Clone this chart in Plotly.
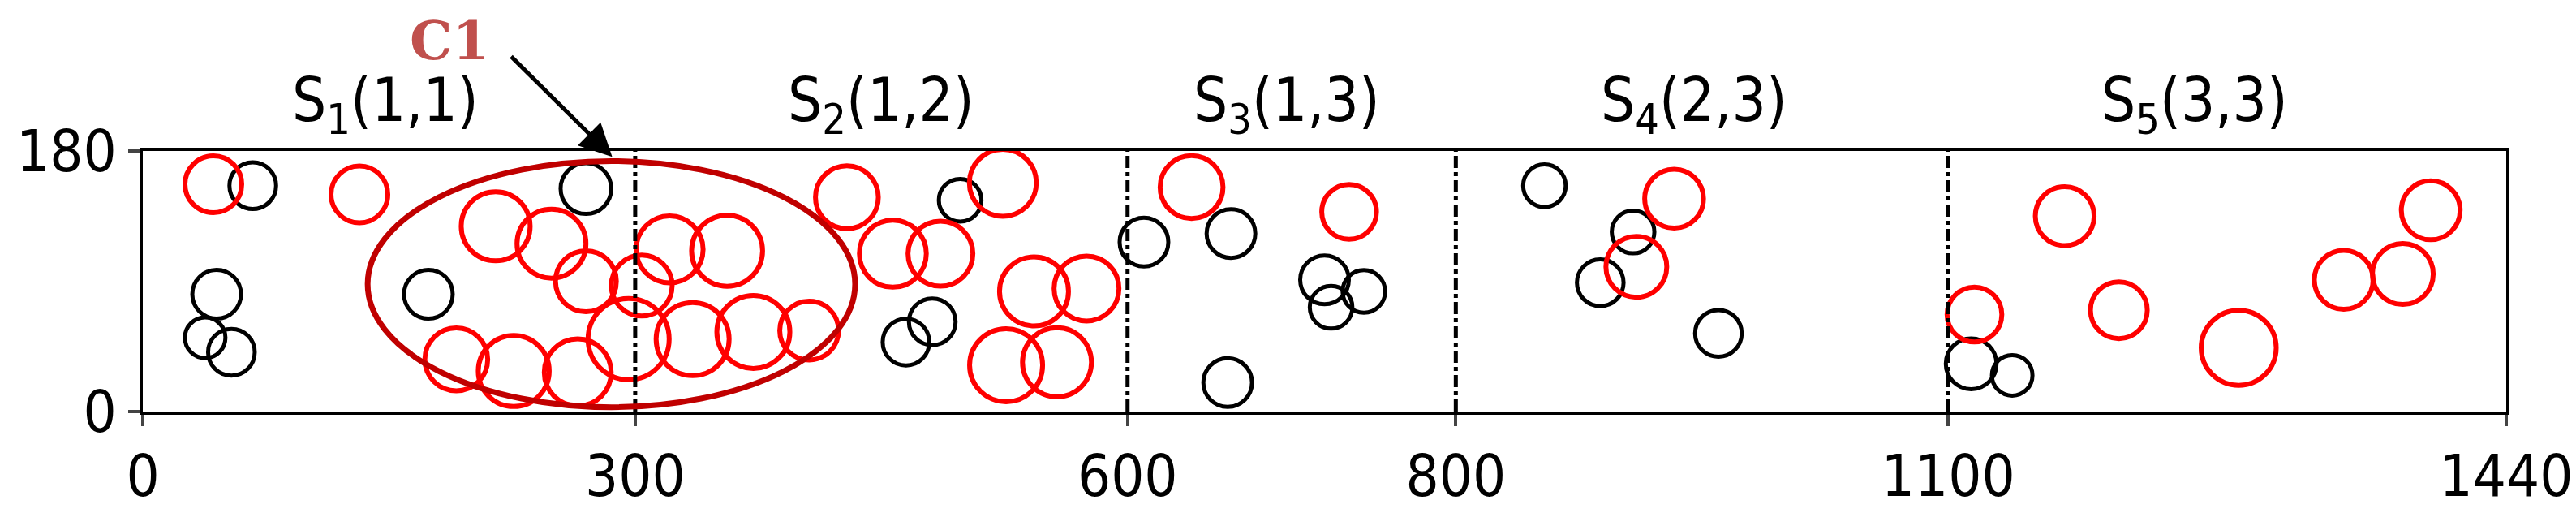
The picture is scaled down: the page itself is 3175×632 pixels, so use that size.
import plotly.graph_objects as go

black_x = [38, 45, 54, 67, 174, 270, 498, 610, 663, 465, 481, 661, 720, 724, 744, 854, 888, 908, 960, 1114, 1139]
black_y = [51, 81, 41, 156, 81, 154, 146, 117, 123, 48, 62, 20, 91, 72, 83, 156, 89, 124, 54, 33, 25]
black_s = [40, 48, 46, 46, 48, 50, 42, 48, 48, 46, 46, 48, 48, 42, 42, 42, 46, 42, 46, 50, 40]

red_x = [43, 132, 191, 215, 226, 249, 265, 270, 296, 304, 321, 335, 356, 372, 406, 429, 457, 486, 524, 526, 543, 557, 575, 639, 735, 910, 933, 1116, 1171, 1204, 1277, 1341, 1377, 1394]
red_y = [157, 150, 36, 128, 28, 116, 27, 90, 50, 87, 112, 50, 111, 55, 56, 148, 109, 109, 158, 32, 83, 34, 85, 155, 138, 100, 147, 67, 135, 70, 44, 91, 95, 139]
red_s = [56, 56, 62, 68, 70, 68, 66, 60, 80, 60, 66, 72, 70, 72, 58, 62, 66, 64, 66, 72, 68, 68, 64, 62, 54, 60, 58, 54, 58, 56, 74, 58, 60, 58]

dividers = [300, 600, 800, 1100]
seg_x = [148, 450, 697, 945, 1250]
seg_labels = ["S<sub>1</sub>(1,1)", "S<sub>2</sub>(1,2)", "S<sub>3</sub>(1,3)", "S<sub>4</sub>(2,3)", "S<sub>5</sub>(3,3)"]
x_ticks = [0, 300, 600, 800, 1100, 1440]
y_ticks = [0, 180]

k = 1.25
fig = go.Figure()
fig.add_trace(go.Scatter(x=black_x, y=black_y, mode="markers",
    marker=dict(size=[s * k for s in black_s], color="rgba(0,0,0,0)", opacity=1,
                line=dict(color="black", width=5))))
fig.add_trace(go.Scatter(x=red_x, y=red_y, mode="markers",
    marker=dict(size=[s * k for s in red_s], color="rgba(0,0,0,0)", opacity=1,
                line=dict(color="#ff0000", width=6))))

for d in dividers:
    fig.add_shape(type="line", x0=d, x1=d, y0=0, y1=180, line=dict(color="black", width=5, dash="dashdot"))
fig.add_shape(type="circle", x0=137, x1=434, y0=3, y1=173, line=dict(color="#c00000", width=7))

for x, t in zip(seg_x, seg_labels):
    fig.add_annotation(x=x, y=1.0, yref="paper", yshift=58, yanchor="middle", text=t, showarrow=False,
                       font=dict(family="DejaVu Sans Condensed, DejaVu Sans", size=74, color="black"))

fig.add_annotation(x=286, y=176, ax=-126, ay=-125, text="", showarrow=True,
                   arrowhead=2, arrowsize=1.6, arrowwidth=5, arrowcolor="black")
fig.add_annotation(x=187, y=1.0, yref="paper", yshift=136, yanchor="middle", text="<b>C1</b>", showarrow=False,
                   font=dict(family="DejaVu Serif", size=66, color="#c0504d"))

fig.update_layout(width=3175, height=632, paper_bgcolor="white", plot_bgcolor="white",
    showlegend=False, margin=dict(l=148, r=83, t=178, b=89),
    font=dict(family="DejaVu Sans Condensed, DejaVu Sans", size=72, color="black"))
fig.update_xaxes(range=[0, 1440], tickvals=x_ticks, showgrid=False, zeroline=False,
    showline=True, linecolor="black", linewidth=4, mirror=True, ticks="outside", ticklen=14, tickwidth=4)
fig.update_yaxes(range=[0, 180], tickvals=y_ticks, showgrid=False, zeroline=False,
    showline=True, linecolor="black", linewidth=4, mirror=True, ticks="outside", ticklen=14, tickwidth=4)

fig.write_html("out.html")
